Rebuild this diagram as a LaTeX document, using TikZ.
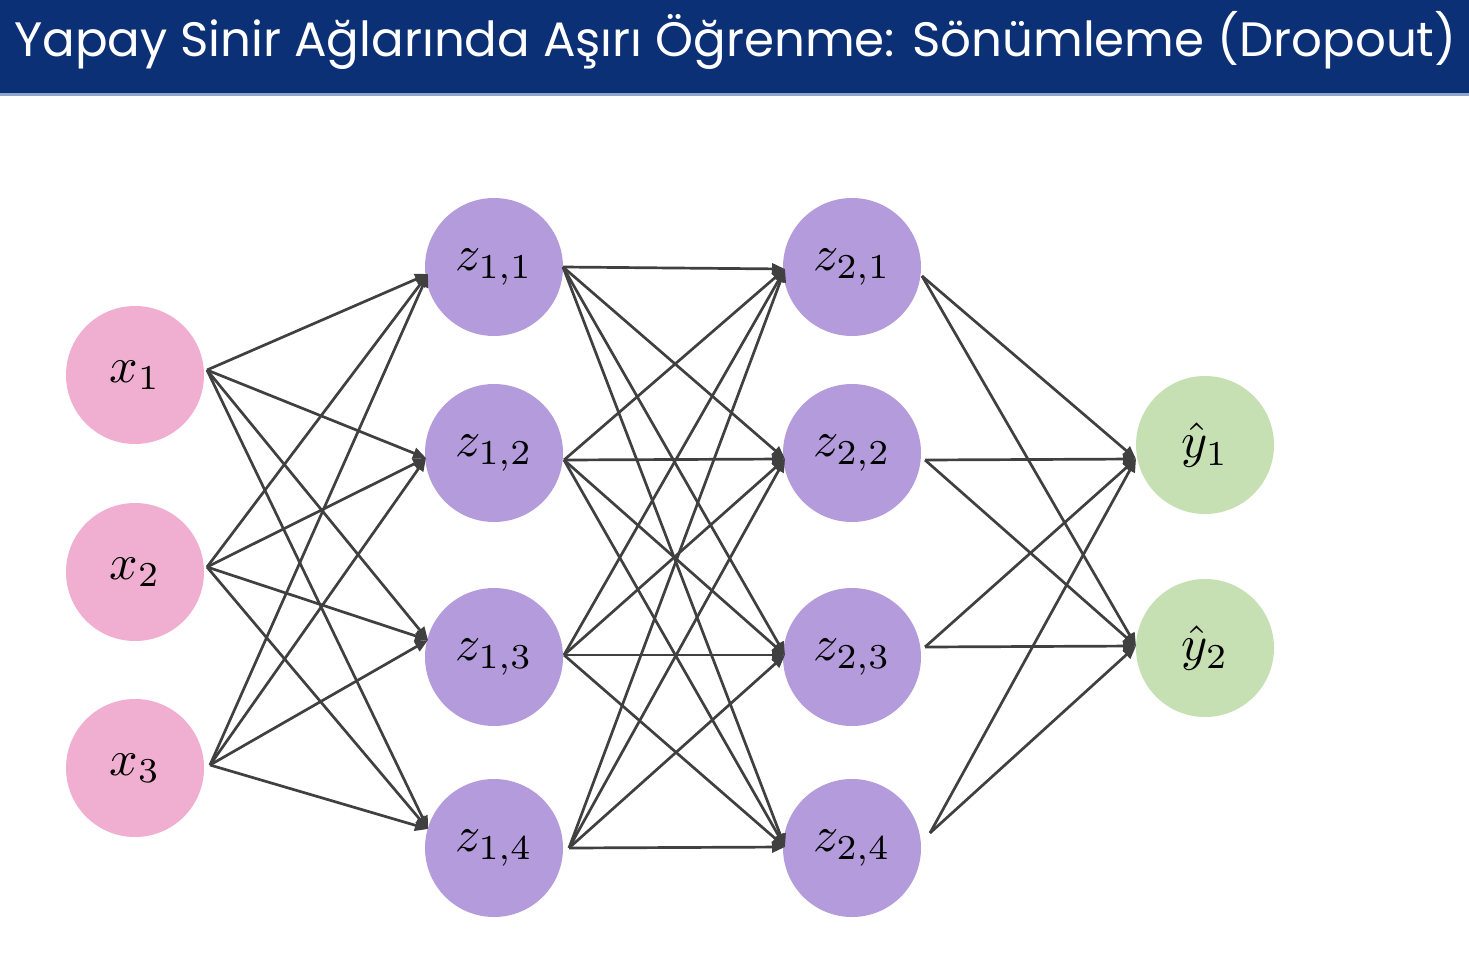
\documentclass[tikz,border=0pt]{standalone}
\usepackage{fontspec}
\newfontfamily\titlefont{Poppins}
\usetikzlibrary{arrows.meta}
\definecolor{navy}{HTML}{0B3075}
\definecolor{navyline}{HTML}{8FA6CC}
\definecolor{pinkc}{HTML}{F0AFD0}
\definecolor{purplec}{HTML}{B49CDC}
\definecolor{greenc}{HTML}{C6E0B4}
\definecolor{edgec}{HTML}{404040}
\newcommand{\nlabel}[1]{\scalebox{5}{$#1$}}
\tikzset{
  neuron/.style={circle, minimum size=138pt, inner sep=0pt},
  inneuron/.style={neuron, fill=pinkc},
  hidneuron/.style={neuron, fill=purplec},
  outneuron/.style={neuron, fill=greenc},
  conn/.style={draw=edgec, line width=2.7pt, -{Triangle[length=13pt,width=11pt]}},
}
\begin{document}
\begin{tikzpicture}[x=1pt,y=-1pt]
\useasboundingbox (0,0) rectangle (1469,961);
\fill[white] (0,0) rectangle (1469,961);
\fill[navy] (0,0) rectangle (1469,93);
\fill[navyline] (0,93) rectangle (1469,95.5);
\node[anchor=base west, text=white, inner sep=0pt, font=\titlefont\fontsize{48.3}{52}\selectfont] (title) at (14,56) {Yapay Sinir Ağlarında Aşırı Öğrenme: Sönümleme (Dropout)};

% input layer
\node[inneuron] (x1) at (135,375) {\nlabel{x_1}};
\node[inneuron] (x2) at (135,572) {\nlabel{x_2}};
\node[inneuron] (x3) at (135,768) {\nlabel{x_3}};
% hidden layer 1
\node[hidneuron] (z11) at (494,267) {\nlabel{z_{1,1}}};
\node[hidneuron] (z12) at (494,453) {\nlabel{z_{1,2}}};
\node[hidneuron] (z13) at (494,657) {\nlabel{z_{1,3}}};
\node[hidneuron] (z14) at (494,848) {\nlabel{z_{1,4}}};
% hidden layer 2
\node[hidneuron] (z21) at (852,267) {\nlabel{z_{2,1}}};
\node[hidneuron] (z22) at (852,453) {\nlabel{z_{2,2}}};
\node[hidneuron] (z23) at (852,657) {\nlabel{z_{2,3}}};
\node[hidneuron] (z24) at (852,848) {\nlabel{z_{2,4}}};
% output
\node[outneuron] (y1) at (1205,445) {\nlabel{\hat{y}_1}};
\node[outneuron] (y2) at (1205,648) {\nlabel{\hat{y}_2}};

% connector ports
\coordinate (x1o) at (207,370);
\coordinate (x2o) at (207,567);
\coordinate (x3o) at (210,765);
\coordinate (z11i) at (428,274);
\coordinate (z12i) at (426,458);
\coordinate (z13i) at (428,640);
\coordinate (z14i) at (428,829);
\coordinate (z11o) at (563,267);
\coordinate (z12o) at (564,460);
\coordinate (z13o) at (564,655);
\coordinate (z14o) at (569,848);
\coordinate (z21i) at (785,269);
\coordinate (z22i) at (785,459);
\coordinate (z23i) at (785,655);
\coordinate (z24i) at (785,847);
\coordinate (z21o) at (922,276);
\coordinate (z22o) at (925,460);
\coordinate (z23o) at (925,647);
\coordinate (z24o) at (930,833);
\coordinate (y1i) at (1136,459);
\coordinate (y2i) at (1136,646);

\foreach \s in {x1o,x2o,x3o}
  \foreach \t in {z11i,z12i,z13i,z14i}
    \draw[conn] (\s) -- (\t);
\foreach \s in {z11o,z12o,z13o,z14o}
  \foreach \t in {z21i,z22i,z23i,z24i}
    \draw[conn] (\s) -- (\t);
\foreach \s in {z21o,z22o,z23o,z24o}
  \foreach \t in {y1i,y2i}
    \draw[conn] (\s) -- (\t);
\end{tikzpicture}
\end{document}
